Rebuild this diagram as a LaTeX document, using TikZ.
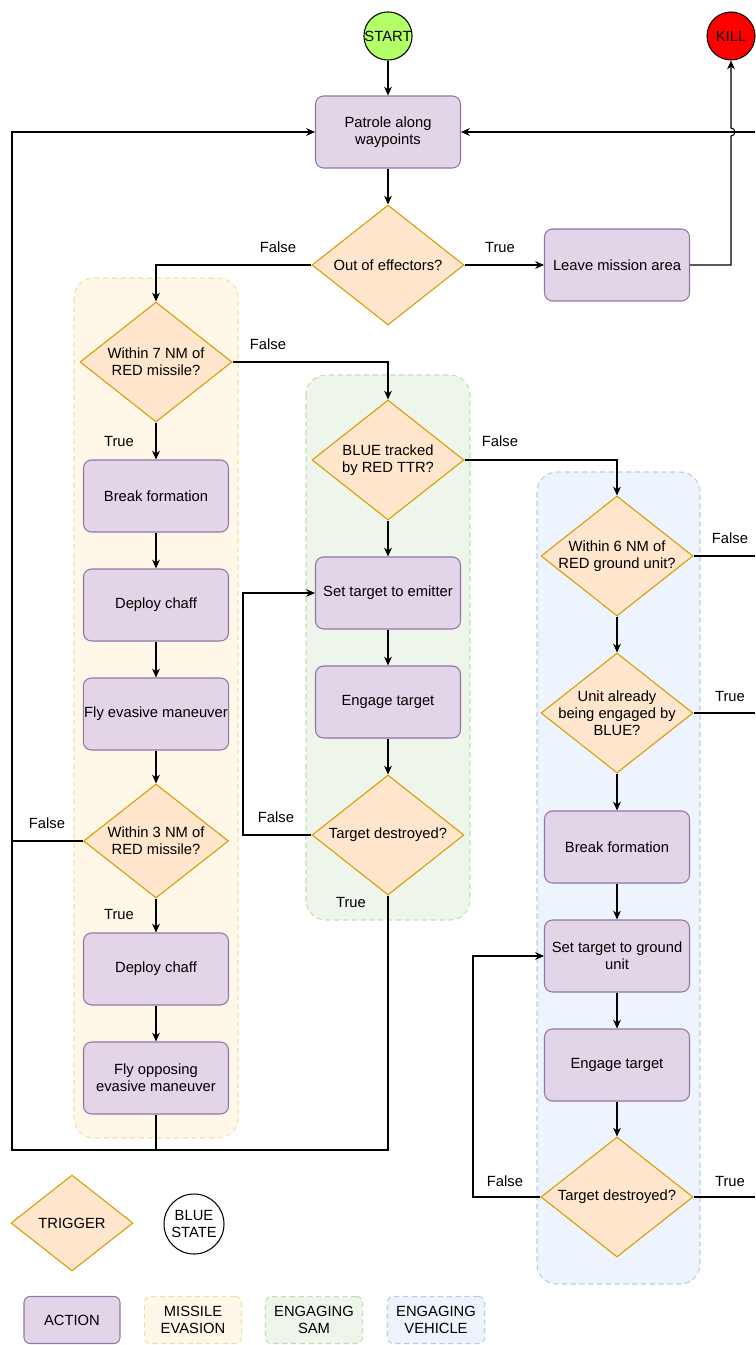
\documentclass[tikz,border=0pt]{standalone}
\usepackage{fontspec}
\setmainfont{Liberation Sans}
\usetikzlibrary{shapes.geometric,arrows.meta}
\definecolor{actfill}{HTML}{E1D5E7}
\definecolor{actline}{HTML}{9673A6}
\definecolor{trgfill}{HTML}{FFE6CC}
\definecolor{trgline}{HTML}{D79B00}
\definecolor{misfill}{HTML}{FFF8E8}
\definecolor{misline}{HTML}{F0DFA8}
\definecolor{samfill}{HTML}{EEF6EC}
\definecolor{samline}{HTML}{C3DDB5}
\definecolor{vehfill}{HTML}{EDF4FD}
\definecolor{vehline}{HTML}{BBCDE5}
\definecolor{startgreen}{HTML}{B3FF66}
\begin{document}
\begin{tikzpicture}[x=0.02cm,y=-0.02cm,font=\fontsize{8.4}{9.8}\selectfont,
  line width=0.6pt,>={Stealth[length=5pt,width=4.4pt,inset=1.6pt]},
  action/.style={draw=actline,fill=actfill,rounded corners=0.16cm,minimum width=2.9cm,minimum height=1.44cm,inner xsep=0.5pt,align=center},
  trigger/.style={diamond,draw=trgline,fill=trgfill,minimum width=3.04cm,minimum height=2.4cm,inner sep=0pt,label={[align=center]center:#1}},
  state/.style={circle,draw,minimum size=0.96cm,inner sep=0pt},
  group/.style={rounded corners=0.4cm,dash pattern=on 3pt off 2pt},
  legbox/.style={group,rounded corners=0.12cm,minimum width=1.94cm,minimum height=0.94cm,align=center}]
\useasboundingbox (0,0) rectangle (755,1345);
% groups
\draw[group,draw=misline,fill=misfill] (74,278) rectangle (238,1138);
\draw[group,draw=samline,fill=samfill] (306,375) rectangle (470,920);
\draw[group,draw=vehline,fill=vehfill] (537,472) rectangle (700,1284);
% states
\node[state,fill=startgreen] (start) at (388,36) {START};
\node[state,fill=red] (kill) at (731,36) {KILL};
% main line
\node[action] (patrol) at (388,132) {Patrole along\\waypoints};
\node[trigger={Out of effectors?}] (outeff) at (388,265) {};
\node[action] (leave) at (617,265) {Leave mission area};
% missile evasion
\node[trigger={Within 7 NM of\\RED missile?}] (w7) at (156,362) {};
\node[action] (brk) at (156,496) {Break formation};
\node[action] (chaff) at (156,605) {Deploy chaff};
\node[action] (fly) at (156,714) {Fly evasive maneuver};
\node[trigger={Within 3 NM of\\RED missile?},minimum width=2.9cm,minimum height=2.28cm] (w3) at (156,841) {};
\node[action] (chaffB) at (156,969) {Deploy chaff};
\node[action] (flyB) at (156,1078) {Fly opposing\\evasive maneuver};
% engaging sam
\node[trigger={BLUE tracked\\by RED TTR?}] (ttr) at (388,460) {};
\node[action] (emit) at (388,593) {Set target to emitter};
\node[action] (eng) at (388,702) {Engage target};
\node[trigger={Target destroyed?}] (tdes) at (388,835) {};
% engaging vehicle
\node[trigger={Within 6 NM of\\RED ground unit?}] (w6) at (617,556) {};
\node[trigger={Unit already\\being engaged by\\BLUE?}] (unit) at (617,713) {};
\node[action] (brkB) at (617,847) {Break formation};
\node[action] (gnd) at (617,956) {Set target to ground\\unit};
\node[action] (engB) at (617,1065) {Engage target};
\node[trigger={Target destroyed?}] (tdesB) at (617,1197) {};
% free ends
\coordinate (loopTop) at (12,132);
\coordinate (loopBot) at (12,1150);
\coordinate (samLoop) at (243,593);
\coordinate (vehLoop) at (473,956);
\coordinate (jump) at (731,136);
\coordinate (rPat) at (755,132);
\coordinate (rW6) at (755,556);
\coordinate (rUnit) at (755,713);
\coordinate (rTdesB) at (755,1197);
% connectors
\draw[->] (start) -- (patrol);
\draw[->] (patrol) -- (outeff);
\draw[->] (outeff.east) -- (leave.west);
\draw[->] (outeff.west) -| (w7.north);
\draw[->] (rPat) -- (patrol.east);
\draw[->] (leave.east) -| (jump) arc[start angle=-90,end angle=90,radius=0.08cm] -- (kill.south);
\draw[->] (w7) -- (brk);
\draw[->] (brk) -- (chaff);
\draw[->] (chaff) -- (fly);
\draw[->] (fly) -- (w3);
\draw[->] (w3) -- (chaffB);
\draw[->] (chaffB) -- (flyB);
\draw[->] (w7.east) -| (ttr.north);
\draw (w3.west) -- (w3.west -| loopTop);
\draw (flyB.south) |- (loopBot);
\draw[->] (tdes.south) |- (loopBot) -- (loopTop) -- (patrol.west);
\draw[->] (ttr) -- (emit);
\draw[->] (emit) -- (eng);
\draw[->] (eng) -- (tdes);
\draw[->] (tdes.west) -| (samLoop) -- (emit.west);
\draw[->] (ttr.east) -| (w6.north);
\draw[->] (w6) -- (unit);
\draw[->] (unit) -- (brkB);
\draw[->] (brkB) -- (gnd);
\draw[->] (gnd) -- (engB);
\draw[->] (engB) -- (tdesB);
\draw[->] (tdesB.west) -| (vehLoop) -- (gnd.west);
\draw (w6.east) -- (rW6);
\draw (unit.east) -- (rUnit);
\draw (tdesB.east) -- (rTdesB);
% branch labels
\node (fOut) at (278,247) {False};
\node (tOut) at (500,247) {True};
\node (fW7) at (268,344) {False};
\node (tW7) at (119,441) {True};
\node (fW3) at (47,823) {False};
\node (tW3) at (119,914) {True};
\node (fTtr) at (500,441) {False};
\node (fTdes) at (276,817) {False};
\node (tTdes) at (351,902) {True};
\node (fW6) at (730,538) {False};
\node (tUnit) at (730,696) {True};
\node (fTdesB) at (505,1181) {False};
\node (tTdesB) at (730,1181) {True};
% legend
\node[trigger={TRIGGER},minimum width=2.44cm,minimum height=1.92cm] (legTrg) at (72,1223) {};
\node[state,minimum size=1.2cm,align=center] (legState) at (194,1224) {BLUE\\STATE};
\node[action,minimum width=1.92cm,minimum height=0.94cm,rounded corners=0.12cm] (legAct) at (72,1320) {ACTION};
\node[legbox,draw=misline,fill=misfill] (legMis) at (193,1320) {MISSILE\\EVASION};
\node[legbox,draw=samline,fill=samfill] (legSam) at (314,1320) {ENGAGING\\SAM};
\node[legbox,draw=vehline,fill=vehfill] (legVeh) at (436,1320) {ENGAGING\\VEHICLE};
\end{tikzpicture}
\end{document}
